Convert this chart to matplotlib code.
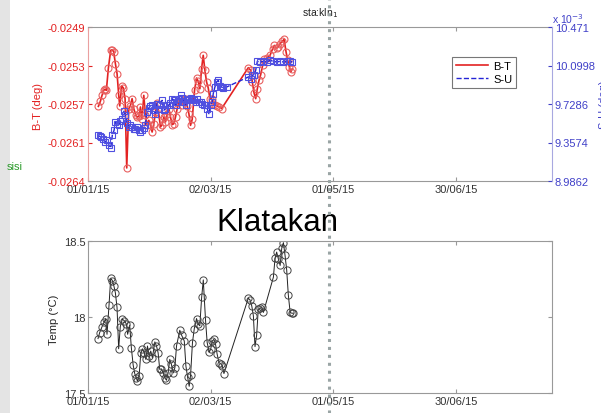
import matplotlib
matplotlib.use("Agg")
import matplotlib.pyplot as plt
from matplotlib.lines import Line2D
from matplotlib.patches import Rectangle
import numpy as np

plt.rcParams['font.family'] = ['Liberation Sans', 'DejaVu Sans']

# ---------------- data (x = days since 01/01/15) ----------------
bt_days = [5.07, 6.05, 6.86, 7.68, 8.33, 8.99, 9.97, 11.11, 11.93, 12.58, 13.40, 14.22, 15.03, 15.52,
           16.50, 17.32, 18.14, 18.95, 19.93, 20.75, 21.57, 22.39, 23.37, 24.18, 25.00, 25.65, 26.47,
           27.29, 28.10, 28.92, 29.74, 30.56, 31.37, 32.19, 33.01, 33.82, 34.64, 35.46, 36.27, 37.09,
           37.91, 38.73, 39.54, 40.36, 41.18, 41.99, 42.81, 43.63, 44.44, 45.26, 46.08, 46.90, 47.71,
           48.53, 49.35, 50.16, 50.98, 52.12, 53.10, 53.92, 54.74, 55.56, 56.37, 57.19, 58.01, 58.82,
           59.64, 60.46, 61.27, 62.09, 63.24, 64.22, 65.36, 78.43, 79.58, 80.39, 81.21, 82.03, 82.84,
           83.66, 84.48, 85.46, 86.27, 87.42, 89.05, 90.36, 91.18, 92.32, 93.14, 93.95, 95.10, 95.92,
           96.90, 97.71, 98.53, 99.18, 100.0]
bt_vals = [-0.025673, -0.025624, -0.025566, -0.025517, -0.025507, -0.025517, -0.025299, -0.025127,
           -0.025121, -0.025144, -0.025257, -0.025355, -0.025566, -0.025669, -0.025475, -0.025494,
           -0.025598, -0.026273, -0.025695, -0.025669, -0.025598, -0.025695, -0.025760, -0.025777,
           -0.025767, -0.025679, -0.025793, -0.025566, -0.025760, -0.025851, -0.025809, -0.025858,
           -0.025923, -0.025842, -0.025728, -0.025637, -0.025744, -0.025874, -0.025851, -0.025777,
           -0.025825, -0.025744, -0.025695, -0.025777, -0.025851, -0.025842, -0.025777, -0.025695,
           -0.025631, -0.025598, -0.025663, -0.025631, -0.025598, -0.025669, -0.025744, -0.025858,
           -0.025799, -0.025517, -0.025397, -0.025429, -0.025501, -0.025306, -0.025176, -0.025322,
           -0.025436, -0.025494, -0.025598, -0.025598, -0.025647, -0.025657, -0.025669, -0.025679,
           -0.025695, -0.025296, -0.025322, -0.025436, -0.025540, -0.025598, -0.025501, -0.025420,
           -0.025364, -0.025273, -0.025215, -0.025202, -0.025176, -0.025111, -0.025079, -0.025105,
           -0.025095, -0.025062, -0.025040, -0.025020, -0.025144, -0.025225, -0.025290, -0.025338,
           -0.025306]

su_days = [4.90, 5.72, 6.54, 7.35, 8.17, 9.31, 10.29, 11.11, 11.93, 12.75, 13.40, 14.22, 15.03, 15.85,
           16.67, 17.48, 18.30, 19.12, 19.93, 20.75, 21.57, 22.39, 23.20, 24.02, 24.84, 25.65, 26.47,
           27.29, 28.10, 28.92, 29.74, 30.56, 31.37, 32.19, 33.01, 33.82, 34.64, 35.46, 36.27, 37.09,
           37.91, 38.73, 39.54, 40.36, 41.18, 41.99, 42.81, 43.63, 44.44, 45.26, 46.08, 46.90, 47.71,
           48.53, 49.35, 50.16, 50.98, 51.80, 52.61, 53.43, 54.25, 55.07, 55.88, 56.70, 57.52, 58.33,
           59.15, 59.97, 60.78, 61.27, 62.09, 62.91, 63.73, 64.54, 65.36, 66.18, 67.81, 78.43, 79.58,
           80.39, 81.21, 82.03, 82.84, 84.15, 85.78, 87.42, 89.05, 90.69, 92.32, 93.95, 95.59, 97.22,
           98.86, 100.0]
su_vals = [9.4265, 9.4168, 9.4104, 9.3943, 9.3622, 9.3783, 9.3301, 9.3044, 9.4329, 9.4747, 9.5550,
           9.5390, 9.5293, 9.5615, 9.5872, 9.6579, 9.6193, 9.5486, 9.5068, 9.5293, 9.5068, 9.4908,
           9.4843, 9.5068, 9.4811, 9.4586, 9.4747, 9.4972, 9.5293, 9.6515, 9.6900, 9.7093, 9.7222,
           9.6675, 9.6354, 9.7318, 9.6836, 9.7157, 9.7639, 9.6675, 9.6836, 9.7222, 9.7157, 9.7414,
           9.7800, 9.7639, 9.7157, 9.7479, 9.7800, 9.8122, 9.7864, 9.7479, 9.7222, 9.7639, 9.7800,
           9.7864, 9.7736, 9.7639, 9.7479, 9.7800, 9.7479, 9.7479, 9.7318, 9.7157, 9.7222, 9.6836,
           9.6354, 9.7157, 9.7479, 9.8282, 9.8925, 9.9407, 9.9568, 9.9021, 9.8925, 9.8829, 9.8925,
           9.9889, 9.9728, 10.0050, 10.0114, 10.0532, 10.1400, 10.1335, 10.1400, 10.1335, 10.1496,
           10.1400, 10.1335, 10.1400, 10.1335, 10.1400, 10.1400, 10.1335]  # x 1e-3

t_days = [4.9, 5.7, 6.9, 7.8, 8.7, 9.3, 10.3, 11.1, 11.9, 12.7, 13.4, 14.2, 15.0, 15.8, 16.8, 17.8,
          18.8, 19.4, 20.4, 21.2, 22.1, 22.9, 23.7, 24.2, 25.0, 25.8, 26.6, 27.5, 28.3, 29.1, 29.9,
          30.7, 31.5, 32.7, 33.5, 34.3, 35.1, 35.9, 36.8, 37.6, 38.4, 39.2, 40.0, 40.8, 41.7, 42.5,
          43.3, 44.9, 45.8, 47.1, 47.9, 48.7, 49.5, 50.2, 51.1, 52.0, 53.1, 53.9, 54.7, 55.6, 56.4,
          57.5, 58.3, 59.3, 60.0, 60.8, 61.6, 62.4, 63.2, 64.1, 64.9, 65.7, 66.5, 78.4, 79.2, 80.1,
          80.9, 81.7, 82.5, 83.3, 84.2, 85.0, 85.8, 90.7, 91.5, 92.3, 93.1, 94.0, 94.8, 95.6, 96.4,
          97.2, 98.0, 98.9, 99.7, 100.5]
t_vals = [17.858, 17.897, 17.937, 17.964, 17.990, 17.886, 18.081, 18.255, 18.240, 18.202, 18.158,
          18.063, 17.791, 17.937, 17.986, 17.975, 17.953, 17.886, 17.946, 17.798, 17.683, 17.626,
          17.599, 17.577, 17.610, 17.760, 17.791, 17.765, 17.721, 17.809, 17.743, 17.776, 17.732,
          17.836, 17.809, 17.765, 17.655, 17.659, 17.632, 17.599, 17.584, 17.632, 17.721, 17.688,
          17.632, 17.666, 17.809, 17.913, 17.880, 17.842, 17.677, 17.606, 17.544, 17.621, 17.831,
          17.924, 17.990, 17.953, 17.942, 18.129, 18.244, 17.979, 17.831, 17.769, 17.787, 17.842,
          17.853, 17.820, 17.754, 17.699, 17.694, 17.677, 17.628, 18.123, 18.114, 18.074, 18.008,
          17.805, 17.880, 18.052, 18.056, 18.067, 18.030, 18.262, 18.387, 18.427, 18.383, 18.339,
          18.454, 18.489, 18.405, 18.310, 18.145, 18.030, 18.025, 18.025]

date_ticks = [0, 60, 120, 180]
date_labels = ['01/01/15', '02/03/15', '01/05/15', '30/06/15']
bt_ticks = list(np.linspace(-0.0264, -0.0249, 5))
bt_labels = ['-0.0264', '-0.0261', '-0.0257', '-0.0253', '-0.0249']
su_ticks = list(np.linspace(8.9862, 10.471, 5))
su_labels = ['8.9862', '9.3574', '9.7286', '10.0998', '10.471']
t_ticks = [17.5, 18, 18.5]
t_labels = ['17.5', '18', '18.5']
event_day = 117.8

RED = '#e32222'
BLUE = '#2424d6'
W, H = 601, 414

fig = plt.figure(figsize=(6.01, 4.14), dpi=100)
fig.patch.set_facecolor('white')
fig.patches.append(Rectangle((0, 0), 10 / W, 1, transform=fig.transFigure,
                             facecolor='#e4e4e4', edgecolor='none', zorder=0))

def ax_rect(l, r, t, b):
    return [l / W, 1 - b / H, (r - l) / W, (b - t) / H]

FS = 8
XMAX = 227

# ---------------- top axes ----------------
ax = fig.add_axes(ax_rect(88, 552, 28, 182))
ax.plot(bt_days, bt_vals, '-', color=RED, lw=1.2, marker='o', ms=5,
        mfc='none', mec='#e86060', mew=0.8)
ax.set_xlim(0, XMAX)
ax.set_ylim(-0.0264, -0.0249)
ax.set_yticks(bt_ticks)
ax.set_yticklabels(bt_labels)
ax.set_xticks(date_ticks)
ax.set_xticklabels(date_labels)
ax.tick_params(axis='x', direction='in', length=3, top=True, labelsize=FS, pad=2,
               color='#999999', labelcolor='#333333')
ax.tick_params(axis='y', direction='in', length=3, labelsize=FS, colors=RED, pad=2)
for s in ['top', 'bottom']:
    ax.spines[s].set_color('#999999')
ax.spines['left'].set_color('#eaa0a0')
ax.spines['right'].set_visible(False)

ax2 = ax.twinx()
ax2.plot(su_days, su_vals, '--', color=BLUE, lw=1.0, marker='s', ms=4.5,
         mfc='none', mec='#5050e0', mew=0.8)
ax2.set_ylim(8.9862, 10.471)
ax2.set_yticks(su_ticks)
ax2.set_yticklabels(su_labels)
ax2.tick_params(axis='y', direction='in', length=3, labelsize=FS, colors='#4040c8', pad=2)
for s in ['top', 'bottom', 'left']:
    ax2.spines[s].set_visible(False)
ax2.spines['right'].set_color('#a8a8e0')
ax2.text(1.0, 1.01, r'x 10$^{-3}$', transform=ax2.transAxes, color='#4040c8',
         fontsize=7.5, ha='left', va='bottom')

handles = [Line2D([], [], color=RED, lw=1.2), Line2D([], [], color=BLUE, lw=1.0, ls='--')]
leg = ax2.legend(handles, ['B-T', 'S-U'], loc='upper left', bbox_to_anchor=(0.784, 0.805),
                 borderaxespad=0, fontsize=FS, frameon=True, fancybox=False,
                 edgecolor='#777777', framealpha=1, handlelength=2.9, handletextpad=0.5,
                 borderpad=0.35, labelspacing=0.25)
leg.get_frame().set_linewidth(0.8)

fig.text(38 / W, 1 - 106 / H, 'B-T (deg)', rotation=90, color=RED, fontsize=FS,
         ha='center', va='center')
fig.text(604 / W, 1 - 105 / H, 'S-U (deg)', rotation=90, color='#4040c8', fontsize=FS,
         ha='center', va='center')
fig.text(7 / W, 1 - 167 / H, 'sisi', color='#2a9a2a', fontsize=FS, ha='left', va='center')
fig.text(302 / W, 1 - 13 / H, r'sta:kln$_1$', color='#222222', fontsize=7.5,
         ha='left', va='center')

# ---------------- bottom axes ----------------
bx = fig.add_axes(ax_rect(88, 552, 242, 394))
bx.plot(t_days, t_vals, '-', color='#222222', lw=0.7, marker='o', ms=5.2,
        mfc='none', mec='#444444', mew=0.7)
bx.set_xlim(0, XMAX)
bx.set_ylim(17.5, 18.5)
bx.set_yticks(t_ticks)
bx.set_yticklabels(t_labels)
bx.set_xticks(date_ticks)
bx.set_xticklabels(date_labels)
bx.tick_params(axis='both', direction='in', length=3, top=True, right=True, labelsize=FS,
               pad=2, color='#999999', labelcolor='#333333')
for s in bx.spines.values():
    s.set_color('#999999')
fig.text(54 / W, 1 - 320 / H, 'Temp (°C)', rotation=90, color='#222222', fontsize=FS,
         ha='center', va='center')

fig.text(277 / W, 1 - 231 / H, 'Klatakan', color='black', fontsize=22.5, ha='center',
         va='baseline')

# event line through whole figure
xf = ax.transData.transform((event_day, 0))[0]
xf = fig.transFigure.inverted().transform((xf, 0))[0]
fig.lines.append(Line2D([xf, xf], [0, 1], transform=fig.transFigure, color='#9aa5a5',
                        lw=2.2, ls=(0, (1, 1.6)), solid_capstyle='butt', zorder=10))

fig.savefig('out.png', dpi=100)
